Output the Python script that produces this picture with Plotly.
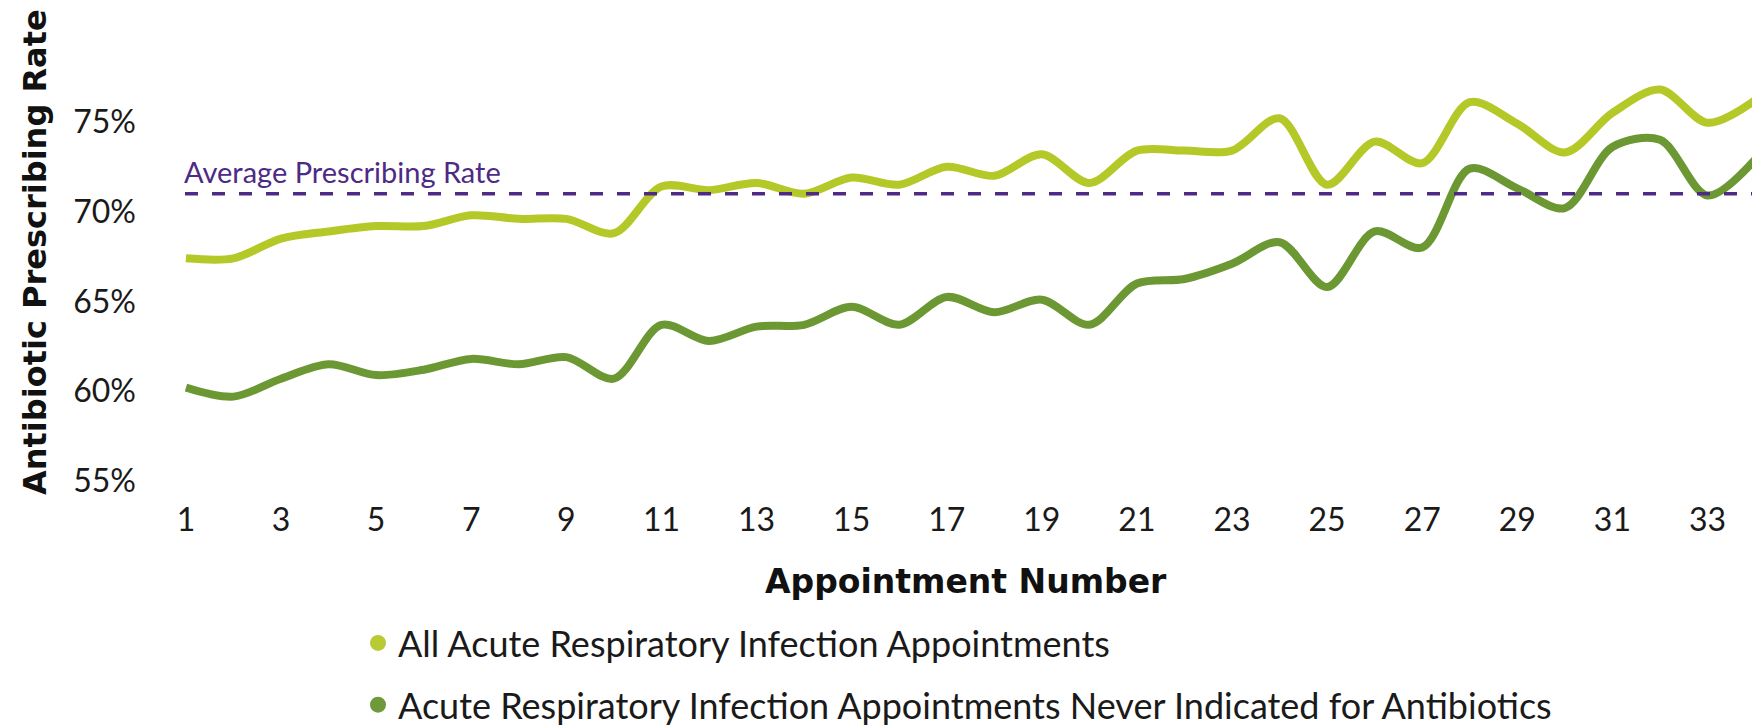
import plotly.graph_objects as go

# appointment number on the x axis
appointments = list(range(1, 35))

# antibiotic prescribing rate (%)
all_ari = [67.4, 67.4, 68.5, 68.9, 69.2, 69.2, 69.8, 69.6, 69.6, 68.8,
           71.4, 71.2, 71.6, 71.0, 71.9, 71.5, 72.5, 72.0, 73.2, 71.6,
           73.4, 73.4, 73.4, 75.2, 71.5, 73.9, 72.7, 76.1, 74.9, 73.3,
           75.5, 76.8, 74.95, 76.2]
never_indicated = [60.2, 59.7, 60.7, 61.5, 60.9, 61.2, 61.8, 61.5, 61.9, 60.7,
                   63.7, 62.8, 63.6, 63.7, 64.7, 63.7, 65.25, 64.4, 65.1, 63.7,
                   66.0, 66.25, 67.1, 68.3, 65.8, 68.9, 68.0, 72.4, 71.3, 70.2,
                   73.6, 74.0, 70.9, 72.9]
avg_rate = 71.0

series_names = ["All Acute Respiratory Infection Appointments",
                "Acute Respiratory Infection Appointments Never Indicated for Antibiotics"]
x_ticks = list(range(1, 34, 2))
y_ticks = [55, 60, 65, 70, 75]
y_ticktext = [f"{v}%" for v in y_ticks]

LIGHT = "#b4c828"
DARK = "#6c9834"
PURPLE = "#4e2a84"
FONT = "Lato"
BOLD_FONT = "DejaVu Sans"

# plot area in pixels (used to place the free-standing titles)
L, R, T, B = 177, 12, 69, 245
PW, PH = 1760 - L - R, 727 - T - B

fig = go.Figure()

for vals, color in [(all_ari, LIGHT), (never_indicated, DARK)]:
    fig.add_trace(go.Scatter(x=appointments, y=vals, mode="lines",
                             line=dict(color=color, width=8, shape="spline", smoothing=0.9),
                             showlegend=False, hoverinfo="x+y"))

# legend entries drawn as dots, like the original
for name, color, grp in [(series_names[0], "#b9ca35", "a"), (series_names[1], "#6e9a3a", "b")]:
    fig.add_trace(go.Scatter(x=[None], y=[None], mode="markers", name=name,
                             legendgroup=grp,
                             marker=dict(color=color, size=19, symbol="circle")))

# average line
fig.add_hline(y=avg_rate, line=dict(color=PURPLE, width=3.5, dash="13px,14px"))
fig.add_annotation(x=0, xref="paper", y=avg_rate, yref="y", yshift=22, xshift=-3,
                   text="Average Prescribing Rate", showarrow=False,
                   xanchor="left", yanchor="middle",
                   font=dict(family=FONT, size=29, color=PURPLE))

# axis titles
fig.add_annotation(text="<b>Antibiotic Prescribing Rate</b>", textangle=-90,
                   x=(27 - L) / PW, xref="paper", y=(727 - B - 244) / PH, yref="paper",
                   showarrow=False, xanchor="center", yanchor="middle",
                   font=dict(family=BOLD_FONT, size=32, color="#111111"))
fig.add_annotation(text="<b>Appointment Number</b>",
                   x=(958 - L) / PW, xref="paper", y=(727 - B - 573) / PH, yref="paper",
                   showarrow=False, xanchor="center", yanchor="middle",
                   font=dict(family=BOLD_FONT, size=33, color="#111111"))

fig.update_layout(
    width=1760, height=727,
    margin=dict(l=L, r=R, t=T, b=B, autoexpand=False),
    plot_bgcolor="white", paper_bgcolor="white",
    font=dict(family=FONT, color="#1a1a1a"),
    xaxis=dict(range=[0.98, 34.02], tickvals=x_ticks, showgrid=False, zeroline=False,
               showline=False, ticks="", ticklabelstandoff=8,
               tickfont=dict(family=FONT, size=32, color="#1a1a1a")),
    yaxis=dict(range=[54.5, 77.5], tickvals=y_ticks, ticktext=y_ticktext, showgrid=False,
               zeroline=False, showline=False, ticks="", ticklabelstandoff=48,
               tickfont=dict(family=FONT, size=32, color="#1a1a1a")),
    legend=dict(orientation="v", x=(350 - L) / PW, xanchor="left",
                y=(727 - B - 605) / PH, yanchor="top", tracegroupgap=12,
                font=dict(family=FONT, size=36, color="#1a1a1a"),
                bgcolor="rgba(0,0,0,0)"),
)

fig.write_html("out.html")
